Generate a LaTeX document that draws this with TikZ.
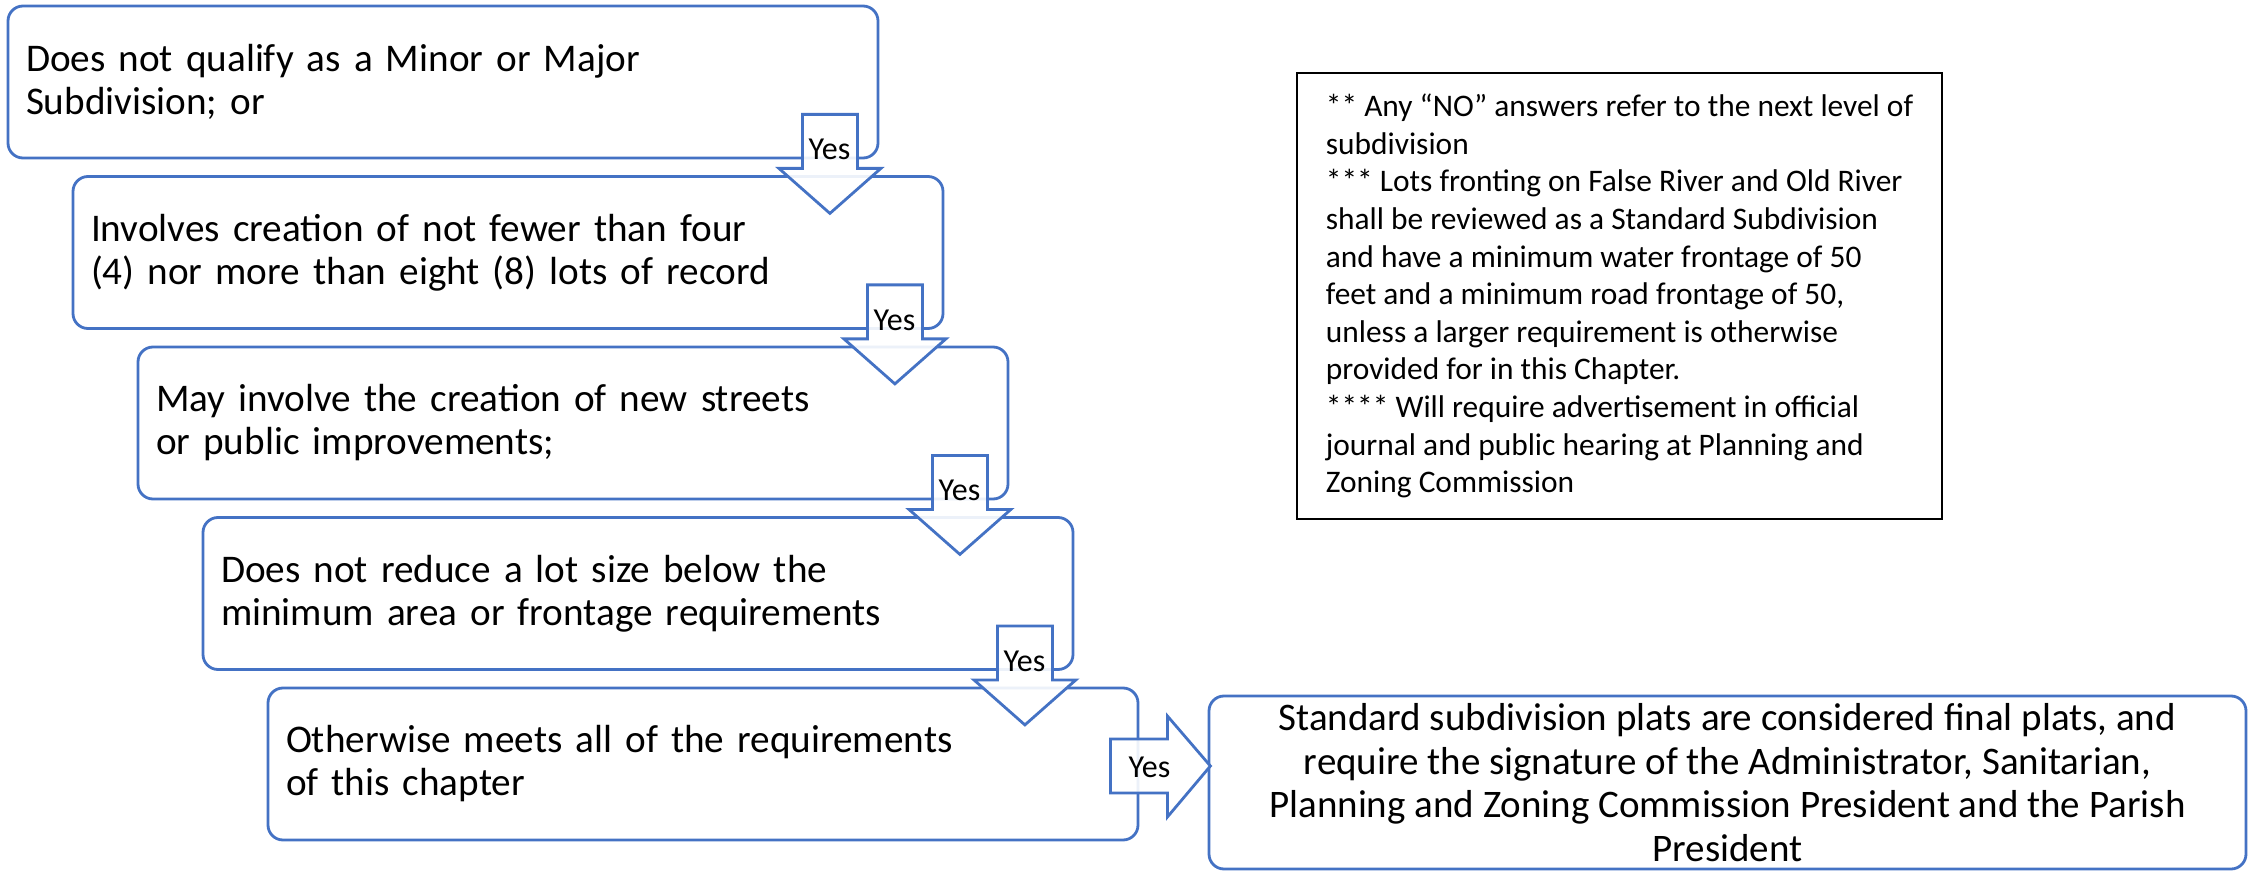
\documentclass[tikz,border=0pt]{standalone}
\usepackage{fontspec}
\setmainfont{Carlito}
\usetikzlibrary{calc}
\definecolor{ofblue}{RGB}{68,114,196}

\begin{document}
\begin{tikzpicture}[
x=0.5pt, y=-0.5pt,
cond/.style={draw=ofblue, line width=1.4pt, rounded corners=7.5pt, text width=417pt, inner xsep=9pt, inner ysep=0pt, minimum height=76pt, align=left, font=\fontsize{19.6}{21.5}\selectfont},
final/.style={draw=ofblue, line width=1.4pt, rounded corners=7.5pt, minimum width=518.5pt, minimum height=86.5pt, inner sep=0pt, align=center, font=\fontsize{19.5}{21.75}\selectfont},
note/.style={draw=black, line width=1.4pt, minimum width=322.5pt, minimum height=223pt, inner sep=0pt, align=left, font=\fontsize{15.7}{18.8}\selectfont},
yesarrow/.style={draw=ofblue, line width=1.4pt, fill=white, fill opacity=0.9},
yes/.style={inner sep=0pt, font=\fontsize{16}{16}\selectfont},
]
\useasboundingbox (0,0) rectangle (2248,871);

%conditions
\node[cond] (c1) at (443,82) {Does not qualify as a Minor or Major\\Subdivision; or};
\node[cond] (c2) at (508,252.5) {Involves creation of not fewer than four\\(4) nor more than eight (8) lots of record};
\node[cond] (c3) at (573,423) {May involve the creation of new streets\\or public improvements;};
\node[cond] (c4) at (638,593.5) {Does not reduce a lot size below the\\minimum area or frontage requirements};
\node[cond] (c5) at (703,764) {Otherwise meets all of the requirements\\of this chapter};

%result
\node[final] (res) at (1727.5,782.5) {Standard subdivision plats are considered final plats, and\\require the signature of the Administrator, Sanitarian,\\Planning and Zoning Commission President and the Parish\\President};

%notes
\node[note] (notes) at (1619.5,296) {** Any “NO” answers refer to the next level of\\
subdivision\\
*** Lots fronting on False River and Old River\\
shall be reviewed as a Standard Subdivision\\
and have a minimum water frontage of 50\\
feet and a minimum road frontage of 50,\\
unless a larger requirement is otherwise\\
provided for in this Chapter.\\
**** Will require advertisement in official\\
journal and public hearing at Planning and\\
Zoning Commission};

%yes arrows
\draw[yesarrow] ($(c1.south east)+(-77,-45)$) -- ++(55,0) -- ++(0,54) -- ++(23.5,0) -- ++(-51,45) -- ++(-51,-45) -- ++(23.5,0) -- cycle;
\draw[yesarrow] ($(c2.south east)+(-77,-45)$) -- ++(55,0) -- ++(0,54) -- ++(23.5,0) -- ++(-51,45) -- ++(-51,-45) -- ++(23.5,0) -- cycle;
\draw[yesarrow] ($(c3.south east)+(-77,-45)$) -- ++(55,0) -- ++(0,54) -- ++(23.5,0) -- ++(-51,45) -- ++(-51,-45) -- ++(23.5,0) -- cycle;
\draw[yesarrow] ($(c4.south east)+(-77,-45)$) -- ++(55,0) -- ++(0,54) -- ++(23.5,0) -- ++(-51,45) -- ++(-51,-45) -- ++(23.5,0) -- cycle;
\draw[yesarrow] ($(c5.east)+(-29,-25)$) -- ++(57,0) -- ++(0,-23) -- ++(43,50) -- ++(-43,51) -- ++(0,-24) -- ++(-57,0) -- cycle;

\node[yes] (y1) at ($(c1.south east)+(-50,-10)$) {Yes};
\node[yes] (y2) at ($(c2.south east)+(-50,-10)$) {Yes};
\node[yes] (y3) at ($(c3.south east)+(-50,-10)$) {Yes};
\node[yes] (y4) at ($(c4.south east)+(-50,-10)$) {Yes};
\node[yes] (y5) at ($(c5.east)+(10,3)$) {Yes};

\end{tikzpicture}
\end{document}
